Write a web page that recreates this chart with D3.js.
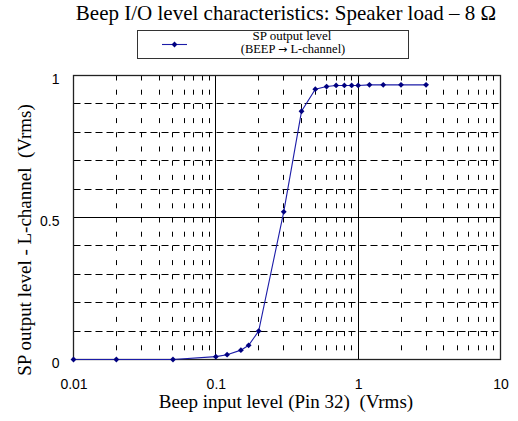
<!DOCTYPE html>
<html>
<head>
<meta charset="utf-8">
<script src="https://cdn.jsdelivr.net/npm/d3@7"></script>
<style>
  html, body { margin: 0; padding: 0; background: #fff; }
  svg { display: block; }
  .axis-title { white-space: pre; }
</style>
</head>
<body>
<svg id="chart" width="518" height="421"></svg>
<script>
// Beep input level (Vrms) vs. speaker output level (Vrms)
const inputLevels = [0.01, 0.02, 0.05, 0.1, 0.12, 0.15, 0.17, 0.2, 0.3, 0.4, 0.5, 0.6, 0.7, 0.8, 0.9, 1.0, 1.2, 1.5, 2.0, 3.0];
const outputLevels = [0, 0, 0, 0.01, 0.017, 0.033, 0.05, 0.1, 0.52, 0.874, 0.952, 0.961, 0.965, 0.965, 0.965, 0.965, 0.967, 0.967, 0.967, 0.967];
const xTickValues = [0.01, 0.1, 1, 10];
const xTickLabels = ["0.01", "0.1", "1", "10"];
const yTickValues = [0, 0.5, 1];
const yTickLabels = ["0", "0.5", "1"];

const titleText = "Beep I/O level characteristics: Speaker load \u2013 8 \u03A9";
const legendLine1 = "SP output level";
const legendLine2 = ["(BEEP ", "\u2192", " L-channel)"];
const xTitle = "Beep input level (Pin 32)  (Vrms)";
const yTitle = "SP output level - L-channel  (Vrms)";

const svg = d3.select("#chart");
const plot = { left: 73.5, right: 500.5, top: 75.5, bottom: 359.5 };

const x = d3.scaleLog().domain([0.01, 10]).range([plot.left, plot.right]);
const y = d3.scaleLinear().domain([0, 1]).range([plot.bottom, plot.top]);

const serif = "'Liberation Serif', 'Times New Roman', serif";
const sans = "'Liberation Sans', Arial, sans-serif";
const snap = v => Math.round(v - 0.5) + 0.5;

// Grid: minor verticals at 2..9 of each decade, dashed
const grid = svg.append("g");
const minorX = [];
[0.01, 0.1, 1].forEach(d => { for (let k = 2; k <= 9; k++) minorX.push(d * k); });
grid.selectAll("line.vx").data(minorX).join("line")
  .attr("x1", d => snap(x(d))).attr("x2", d => snap(x(d)))
  .attr("y1", plot.top).attr("y2", plot.bottom)
  .attr("stroke", "#000").attr("stroke-width", 1)
  .attr("stroke-dasharray", "5,9.2");

// Horizontal grid lines every 0.1, dashed
const minorY = d3.range(1, 10).map(i => i / 10).filter(v => Math.abs(v - 0.5) > 1e-9);
grid.selectAll("line.hy").data(minorY).join("line")
  .attr("x1", plot.left).attr("x2", plot.right)
  .attr("y1", d => snap(y(d))).attr("y2", d => snap(y(d)))
  .attr("stroke", "#000").attr("stroke-width", 1)
  .attr("stroke-dasharray", "7,4");

// Major gridlines: decades and 0.5
grid.selectAll("line.mx").data([0.1, 1]).join("line")
  .attr("x1", d => snap(x(d))).attr("x2", d => snap(x(d)))
  .attr("y1", plot.top).attr("y2", plot.bottom)
  .attr("stroke", "#000").attr("stroke-width", 1);
grid.append("line")
  .attr("x1", plot.left).attr("x2", plot.right)
  .attr("y1", snap(y(0.5))).attr("y2", snap(y(0.5)))
  .attr("stroke", "#000").attr("stroke-width", 1);

// Frame
svg.append("rect")
  .attr("x", plot.left).attr("y", plot.top)
  .attr("width", plot.right - plot.left).attr("height", plot.bottom - plot.top)
  .attr("fill", "none").attr("stroke", "#222").attr("stroke-width", 1.3);

// Axes
const xAxis = d3.axisBottom(x).tickValues(xTickValues).tickSize(0)
  .tickFormat((d, i) => xTickLabels[i]);
const gx = svg.append("g").attr("transform", `translate(0,${plot.bottom})`).call(xAxis);
gx.select(".domain").remove();
gx.selectAll("text").attr("font-family", sans).attr("font-size", 14).attr("fill", "#000")
  .attr("y", 20).attr("dy", "0.71em");

const yAxis = d3.axisLeft(y).tickValues(yTickValues).tickSize(0)
  .tickFormat((d, i) => yTickLabels[i]);
const gy = svg.append("g").attr("transform", `translate(${plot.left},0)`).call(yAxis);
gy.select(".domain").remove();
gy.selectAll("text").attr("font-family", sans).attr("font-size", 14).attr("fill", "#000")
  .attr("x", -14).attr("dy", "0.6em");

// Series line and markers
const line = d3.line().x((d, i) => x(inputLevels[i])).y(d => y(d));
svg.append("path").datum(outputLevels)
  .attr("d", line).attr("fill", "none")
  .attr("stroke", "#1c1ca8").attr("stroke-width", 1.1);

const marker = d3.symbol().type(d3.symbolSquare).size(17);
svg.append("g").selectAll("path").data(outputLevels).join("path")
  .attr("transform", (d, i) => `translate(${x(inputLevels[i])},${y(d)}) rotate(45)`)
  .attr("d", marker).attr("fill", "#000080");

// Title
svg.append("text").attr("x", 286).attr("y", 20)
  .attr("text-anchor", "middle").attr("font-family", serif).attr("font-size", 21)
  .attr("fill", "#000").text(titleText);

// Legend
const lg = svg.append("g");
lg.append("rect").attr("x", 137.5).attr("y", 30.5).attr("width", 271).attr("height", 28)
  .attr("fill", "#fff").attr("stroke", "#333").attr("stroke-width", 1);
lg.append("line").attr("x1", 162).attr("x2", 187).attr("y1", 44.5).attr("y2", 44.5)
  .attr("stroke", "#1c1ca8").attr("stroke-width", 1.1);
lg.append("path").attr("transform", "translate(174.5,44.5) rotate(45)").attr("d", marker).attr("fill", "#000080");
lg.append("text").attr("x", 292).attr("y", 40)
  .attr("text-anchor", "middle").attr("font-family", serif).attr("font-size", 13)
  .attr("fill", "#000").text(legendLine1);
const l2 = lg.append("text").attr("x", 293).attr("y", 52.5)
  .attr("text-anchor", "middle").attr("font-family", serif).attr("font-size", 12.5)
  .attr("fill", "#000");
l2.selectAll("tspan").data(legendLine2).join("tspan")
  .attr("font-family", (d, i) => i === 1 ? "'DejaVu Sans', sans-serif" : serif)
  .attr("font-size", (d, i) => i === 1 ? 11 : 12.5)
  .text(d => d);

// Axis titles
svg.append("text").attr("class", "axis-title").attr("x", 286).attr("y", 408)
  .attr("text-anchor", "middle").attr("font-family", serif).attr("font-size", 19)
  .attr("fill", "#000").text(xTitle);
svg.append("text").attr("class", "axis-title").attr("transform", "translate(31,240) rotate(-90)")
  .attr("text-anchor", "middle").attr("font-family", serif).attr("font-size", 19)
  .attr("fill", "#000").text(yTitle);
</script>
</body>
</html>
